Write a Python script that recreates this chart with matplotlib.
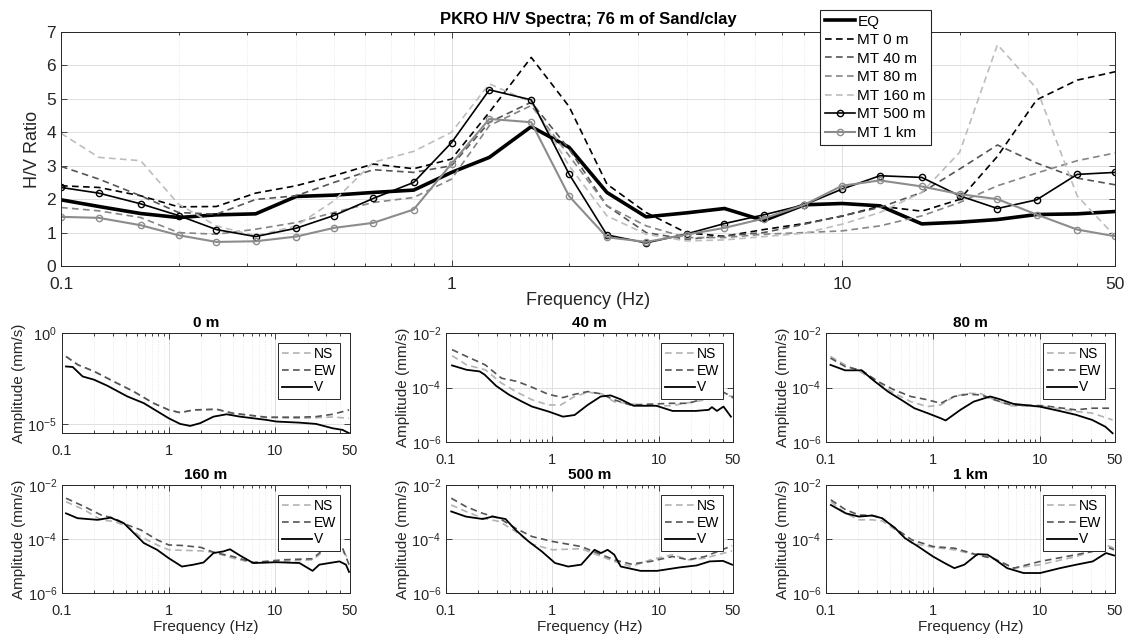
import numpy as np
import matplotlib
matplotlib.use("Agg")
import matplotlib.pyplot as plt
from matplotlib.ticker import NullLocator, LogLocator, FixedLocator

plt.rcParams['font.family'] = ['Liberation Sans', 'DejaVu Sans']

# third-octave centre frequencies used for the H/V ratios
freq = [0.1, 0.125, 0.16, 0.2, 0.25, 0.315, 0.4, 0.5, 0.63, 0.8, 1, 1.25, 1.6, 2,
        2.5, 3.15, 4, 5, 6.3, 8, 10, 12.5, 16, 20, 25, 31.5, 40, 50]

hv_eq = [1.98, 1.78, 1.57, 1.45, 1.53, 1.56, 2.08, 2.12, 2.2, 2.27, 2.8, 3.25, 4.17, 3.55,
         2.2, 1.47, 1.59, 1.72, 1.36, 1.83, 1.87, 1.8, 1.26, 1.31, 1.39, 1.54, 1.56, 1.63]
hv_0m = [2.4, 2.35, 2.1, 1.77, 1.78, 2.18, 2.4, 2.7, 3.05, 2.91, 3.2, 4.6, 6.24, 4.77,
         2.45, 1.6, 0.99, 0.89, 1.09, 1.27, 1.49, 1.79, 1.64, 1.99, 3.28, 4.97, 5.56, 5.81]
hv_40m = [2.98, 2.6, 2.1, 1.6, 1.55, 1.99, 2.1, 2.5, 2.88, 2.8, 3.0, 4.3, 4.9, 3.5,
          1.8, 1.0, 0.8, 0.9, 1.0, 1.25, 1.5, 1.75, 2.2, 2.9, 3.62, 3.08, 2.63, 2.43]
hv_80m = [1.75, 1.65, 1.45, 1.0, 0.95, 1.1, 1.3, 1.6, 1.9, 2.05, 2.6, 4.2, 4.8, 3.3,
          1.8, 1.2, 0.85, 0.85, 0.95, 1.0, 1.05, 1.2, 1.5, 1.9, 2.4, 2.78, 3.15, 3.38]
hv_160m = [3.97, 3.25, 3.15, 1.85, 1.2, 0.9, 1.2, 1.95, 3.1, 3.43, 4.0, 5.45, 4.9, 3.0,
           1.5, 0.95, 0.75, 0.78, 0.88, 0.98, 1.25, 1.6, 2.2, 3.4, 6.62, 5.31, 2.1, 0.89]
hv_500m = [2.35, 2.18, 1.86, 1.51, 1.09, 0.88, 1.13, 1.51, 2.02, 2.5, 3.69, 5.27, 4.97, 2.75,
           0.93, 0.69, 0.96, 1.27, 1.53, 1.83, 2.3, 2.7, 2.65, 2.1, 1.72, 1.98, 2.74, 2.8]
hv_1km = [1.47, 1.44, 1.22, 0.92, 0.72, 0.74, 0.88, 1.14, 1.29, 1.69, 3.06, 4.4, 4.3, 2.09,
          0.86, 0.72, 0.94, 1.14, 1.42, 1.83, 2.4, 2.56, 2.38, 2.15, 2.0, 1.54, 1.09, 0.89]

# amplitude spectra, stored as log10(mm/s)
f_v0 = [0.109, 0.126, 0.156, 0.2, 0.266, 0.41, 0.585, 1, 1.28, 1.59, 1.97, 2.63, 3.49, 4.65, 8.24, 10.2, 16.8, 24, 34.4, 42.6, 49]
v0 = [-1.84, -1.87, -2.39, -2.57, -2.9, -3.49, -3.86, -4.69, -5.0, -5.11, -4.96, -4.6, -4.47, -4.6, -4.78, -4.87, -4.93, -5.0, -5.24, -5.33, -5.51]
f_ew0 = [0.109, 0.141, 0.2, 0.306, 0.47, 0.72, 1, 1.28, 1.7, 2.8, 4.0, 8.24, 16.8, 24, 34.4, 49]
ew0 = [-1.29, -1.75, -2.11, -2.67, -3.22, -3.86, -4.23, -4.38, -4.23, -4.19, -4.41, -4.63, -4.63, -4.6, -4.47, -4.23]
f_ns0 = [0.109, 0.141, 0.2, 0.306, 0.47, 0.72, 1, 1.28, 1.7, 2.8, 4.0, 8.24, 16.8, 24, 34.4, 49]
ns0 = [-1.29, -1.75, -2.11, -2.67, -3.22, -3.86, -4.23, -4.38, -4.25, -4.2, -4.43, -4.65, -4.69, -4.66, -4.62, -4.69]

f_v40 = [0.114, 0.156, 0.207, 0.231, 0.296, 0.393, 0.52, 0.644, 0.918, 1.26, 1.62, 2.15, 2.85, 3.53, 4.37, 5.8, 9.5, 13.5, 22.3, 29.5, 31.7, 35.3, 40.7, 47.8]
v40 = [-3.19, -3.35, -3.41, -3.53, -3.94, -4.27, -4.52, -4.7, -4.88, -5.07, -5.01, -4.64, -4.33, -4.29, -4.43, -4.67, -4.67, -4.86, -4.86, -4.82, -4.72, -4.86, -4.7, -5.07]
f_ew40 = [0.114, 0.156, 0.234, 0.333, 0.47, 0.644, 0.918, 1.26, 1.62, 2.15, 2.85, 3.8, 5.4, 13.1, 19.1, 27.5, 39.5, 48.6, 50]
ew40 = [-2.61, -2.86, -3.17, -3.66, -3.78, -3.99, -4.25, -4.37, -4.25, -4.15, -4.23, -4.45, -4.64, -4.58, -4.58, -4.39, -4.15, -4.33, -4.39]
f_ns40 = [0.114, 0.156, 0.234, 0.333, 0.47, 0.644, 0.918, 1.2, 1.62, 2.15, 2.85, 3.8, 7.5, 13.1, 27.5, 37.1, 50]
ns40 = [-2.83, -3.17, -3.35, -3.84, -4.18, -4.45, -4.64, -4.64, -4.33, -4.18, -4.21, -4.52, -4.67, -4.67, -4.45, -4.27, -4.33]

f_v80 = [0.11, 0.151, 0.215, 0.286, 0.379, 0.503, 0.668, 0.886, 1.18, 1.31, 1.8, 2.39, 3.41, 4.21, 5.6, 9.85, 15.1, 21.5, 30.6, 40.7, 47.5]
v80 = [-3.17, -3.37, -3.37, -3.78, -4.15, -4.45, -4.76, -4.94, -5.13, -5.21, -4.82, -4.52, -4.33, -4.43, -4.6, -4.7, -4.86, -5.0, -5.19, -5.44, -5.68]
f_ew80 = [0.11, 0.151, 0.215, 0.306, 0.434, 0.62, 0.886, 1.18, 1.57, 2.09, 2.8, 3.73, 5.3, 10.9, 21.5, 30.6, 47.5]
ew80 = [-2.92, -3.23, -3.37, -3.78, -4.09, -4.33, -4.45, -4.58, -4.33, -4.25, -4.27, -4.45, -4.64, -4.67, -4.82, -4.76, -4.76]
f_ns80 = [0.11, 0.151, 0.215, 0.306, 0.434, 0.62, 0.886, 1.18, 1.57, 2.09, 2.8, 3.73, 5.3, 10.9, 21.5, 30.6, 47.5]
ns80 = [-2.86, -3.17, -3.45, -3.84, -4.21, -4.52, -4.7, -4.64, -4.33, -4.21, -4.23, -4.45, -4.67, -4.7, -4.88, -4.94, -5.19]

f_v160 = [0.109, 0.14, 0.215, 0.286, 0.381, 0.472, 0.585, 0.778, 1, 1.33, 1.71, 2.12, 2.63, 3.25, 3.75, 4.65, 6.19, 10.2, 16.8, 22.3, 25.8, 34.4, 39.8, 45.8, 49]
v160 = [-3.05, -3.23, -3.29, -3.21, -3.42, -3.78, -4.15, -4.4, -4.71, -5.02, -4.95, -4.87, -4.52, -4.46, -4.38, -4.61, -4.89, -4.86, -4.89, -5.18, -4.95, -4.87, -4.83, -4.95, -5.22]
f_ew160 = [0.109, 0.162, 0.232, 0.308, 0.41, 0.545, 0.778, 1, 1.33, 2.0, 2.63, 4.0, 6.19, 11.8, 22.3, 25.8, 30.0, 34.4, 42.6, 49]
ew160 = [-2.49, -2.8, -3.11, -3.23, -3.48, -3.66, -4.03, -4.22, -4.24, -4.31, -4.49, -4.65, -4.87, -4.77, -4.73, -4.52, -4.18, -4.22, -4.34, -4.95]
f_ns160 = [0.109, 0.162, 0.232, 0.308, 0.41, 0.545, 0.778, 1, 2.0, 2.63, 4.0, 6.19, 11.8, 22.3, 25.8, 30.0, 34.4, 42.6, 49]
ns160 = [-2.62, -2.92, -3.29, -3.35, -3.54, -3.91, -4.22, -4.4, -4.44, -4.49, -4.71, -4.89, -4.83, -4.77, -4.58, -4.28, -4.28, -4.44, -4.77]

f_v500 = [0.112, 0.154, 0.221, 0.273, 0.363, 0.45, 0.598, 0.796, 1.06, 1.41, 1.87, 2.49, 2.87, 3.31, 3.82, 4.4, 6.75, 9.65, 15.9, 22.7, 30.2, 40.2, 49]
v500 = [-2.98, -3.17, -3.26, -3.17, -3.26, -3.66, -4.09, -4.46, -4.89, -5.02, -4.95, -4.4, -4.52, -4.4, -4.58, -5.02, -5.18, -5.18, -5.05, -4.98, -4.83, -4.81, -4.95]
f_ew500 = [0.112, 0.154, 0.221, 0.317, 0.45, 0.645, 1, 1.87, 3.82, 5.5, 8.4, 13.5, 19.1, 27.2, 49]
ew500 = [-2.49, -2.8, -3.05, -3.23, -3.6, -3.91, -4.09, -4.28, -4.77, -4.93, -4.83, -4.65, -4.77, -4.65, -4.25]
f_ns500 = [0.112, 0.154, 0.221, 0.317, 0.45, 0.645, 1, 1.87, 3.82, 5.5, 8.4, 13.5, 19.1, 27.2, 49]
ns500 = [-2.74, -2.98, -3.23, -3.35, -3.72, -4.19, -4.4, -4.36, -4.83, -5.02, -4.77, -4.58, -4.77, -4.71, -4.44]

f_v1k = [0.111, 0.153, 0.203, 0.27, 0.334, 0.443, 0.547, 0.727, 1, 1.28, 1.58, 1.96, 2.6, 3.22, 3.7, 4.92, 7.0, 10, 15.3, 21.8, 31, 41.2, 49]
v1k = [-2.74, -3.05, -3.17, -3.13, -3.23, -3.6, -3.97, -4.28, -4.65, -4.89, -5.08, -4.95, -4.56, -4.58, -4.73, -5.08, -5.26, -5.26, -5.08, -4.95, -4.83, -4.52, -4.61]
f_ew1k = [0.111, 0.153, 0.203, 0.27, 0.334, 0.443, 0.631, 1, 1.58, 2.45, 3.7, 5.7, 10, 21.8, 31, 41.2, 49]
ew1k = [-2.55, -2.92, -3.11, -3.13, -3.23, -3.6, -4.03, -4.28, -4.34, -4.56, -4.73, -5.08, -4.83, -4.58, -4.46, -4.28, -4.4]
f_ns1k = [0.111, 0.153, 0.203, 0.27, 0.334, 0.443, 0.631, 1, 1.58, 2.45, 3.7, 5.7, 10, 21.8, 31, 41.2, 49]
ns1k = [-2.62, -3.05, -3.29, -3.29, -3.33, -3.66, -4.15, -4.31, -4.4, -4.58, -4.73, -5.08, -4.95, -4.65, -4.44, -4.22, -4.34]

panel_titles = ['0 m', '40 m', '80 m', '160 m', '500 m', '1 km']
panels = [
    (f_ns0, ns0, f_ew0, ew0, f_v0, v0),
    (f_ns40, ns40, f_ew40, ew40, f_v40, v40),
    (f_ns80, ns80, f_ew80, ew80, f_v80, v80),
    (f_ns160, ns160, f_ew160, ew160, f_v160, v160),
    (f_ns500, ns500, f_ew500, ew500, f_v500, v500),
    (f_ns1k, ns1k, f_ew1k, ew1k, f_v1k, v1k),
]

W, H = 1131, 641
fig = plt.figure(figsize=(W / 100, H / 100), dpi=100)


def px_axes(l, t, r, b):
    return fig.add_axes([l / W, 1 - b / H, (r - l) / W, (b - t) / H])


def style(ax, fs, xpad):
    ax.set_xscale('log')
    ax.set_xlim(0.1, 50)
    ax.xaxis.set_major_locator(FixedLocator([0.1, 1, 10, 50]))
    ax.set_xticklabels(['0.1', '1', '10', '50'])
    ax.xaxis.set_minor_locator(LogLocator(base=10, subs=np.arange(2, 10), numticks=20))
    ax.tick_params(which='both', direction='in', top=True, right=True,
                   labelsize=fs, colors='#262626', width=0.6)
    ax.tick_params(which='major', length=4)
    ax.tick_params(which='minor', length=2.5)
    ax.tick_params(axis='x', which='major', pad=xpad)
    ax.grid(True, which='major', color='#dedede', lw=0.7)
    ax.grid(True, which='minor', axis='x', color='#e4e4e4', lw=0.6, ls=':')
    ax.set_axisbelow(True)
    for s in ax.spines.values():
        s.set_color('#262626')
        s.set_linewidth(0.7)


dash = (0, (4, 2.6))

# ---- main H/V panel
ax = px_axes(61, 32, 1115, 266)
style(ax, 12.5, 8)
ax.set_ylim(0, 7)
ax.set_yticks(range(8))
ax.plot(freq, hv_eq, color='black', lw=2.6, label='EQ')
ax.plot(freq, hv_0m, color='black', lw=1.2, ls=dash, label='MT 0 m')
ax.plot(freq, hv_40m, color='#555555', lw=1.2, ls=dash, label='MT 40 m')
ax.plot(freq, hv_80m, color='#858585', lw=1.2, ls=dash, label='MT 80 m')
ax.plot(freq, hv_160m, color='#bdbdbd', lw=1.2, ls=dash, label='MT 160 m')
ax.plot(freq, hv_500m, color='black', lw=1.2, marker='o', ms=4.5, mfc='none', mew=1.0, label='MT 500 m')
ax.plot(freq, hv_1km, color='#8c8c8c', lw=1.5, marker='o', ms=4.5, mfc='none', mew=1.0, label='MT 1 km')
ax.set_ylabel('H/V Ratio', fontsize=13, color='#262626', labelpad=4)
ax.set_xlabel('Frequency (Hz)', fontsize=13, color='#262626', labelpad=0)
ax.set_title('PKRO H/V Spectra; 76 m of Sand/clay', fontsize=12, fontweight='bold', pad=6)
h, lab = ax.get_legend_handles_labels()
leg = fig.legend(h, lab, loc='upper left', bbox_to_anchor=(820 / W, 1 - 10 / H),
                 fontsize=11, frameon=True, fancybox=False, handlelength=2.0,
                 handletextpad=0.15, borderpad=0.3, labelspacing=0.3, borderaxespad=0)
leg.get_frame().set_edgecolor('#262626')
leg.get_frame().set_linewidth(0.8)
leg.get_frame().set_alpha(1)

# ---- amplitude spectra panels
col_l = [62, 446, 826]
col_r = [350, 733, 1115]
row_tb = [(333, 442), (485, 593)]

for k, (fns, ns, few, ew, fv, v) in enumerate(panels):
    r, c = divmod(k, 3)
    top, bot = row_tb[r]
    if k == 0:
        bot = 433
    a = px_axes(col_l[c], top, col_r[c], bot)
    style(a, 10.5, 8)
    a.set_yscale('log')
    if k == 0:
        a.set_ylim(10 ** -5.5, 1)
        a.yaxis.set_major_locator(FixedLocator([1e-5, 1]))
    else:
        a.set_ylim(1e-6, 1e-2)
        a.yaxis.set_major_locator(FixedLocator([1e-6, 1e-4, 1e-2]))
    a.yaxis.set_minor_locator(NullLocator())
    a.plot(fns, 10 ** np.array(ns), color='#b3b3b3', lw=1.2, ls=dash, label='NS')
    a.plot(few, 10 ** np.array(ew), color='#555555', lw=1.2, ls=dash, label='EW')
    a.plot(fv, 10 ** np.array(v), color='black', lw=1.3, label='V')
    a.set_title(panel_titles[k], fontsize=11, fontweight='bold', pad=4)
    a.set_ylabel('Amplitude (mm/s)', fontsize=11, color='#262626', labelpad=1)
    if r == 1:
        a.set_xlabel('Frequency (Hz)', fontsize=11, color='#262626', labelpad=1)
    lg = a.legend(loc='upper right', fontsize=10, fancybox=False, handlelength=2.2,
                  handletextpad=0.1, borderpad=0.3, labelspacing=0.2, borderaxespad=0.7)
    lg.get_frame().set_edgecolor('#262626')
    lg.get_frame().set_linewidth(0.7)
    lg.get_frame().set_alpha(1)

fig.savefig('out.png', dpi=100)
